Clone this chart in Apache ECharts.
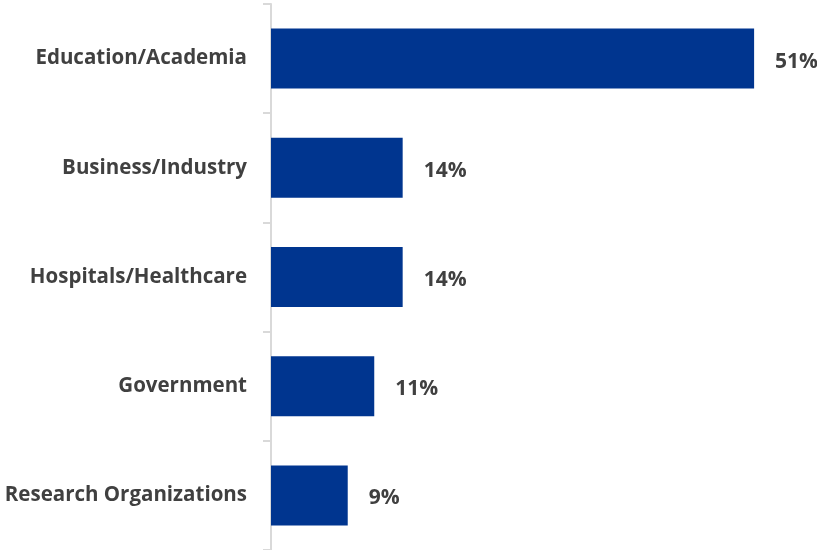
<!DOCTYPE html>
<html>
<head>
<meta charset="utf-8">
<style>
  html, body { margin: 0; padding: 0; background: #fff; }
  #chart { width: 817px; height: 550px; }
</style>
<script src="https://cdn.jsdelivr.net/npm/echarts@6/dist/echarts.min.js"></script>
</head>
<body>
<div id="chart"></div>
<script>
// categories top to bottom
var categories = ['Education/Academia', 'Business/Industry', 'Hospitals/Healthcare', 'Government', 'Research Organizations'];
// bar lengths (percent)
var values = [51, 13.9, 13.9, 10.9, 8.1];
// printed labels
var valueLabels = ['51%', '14%', '14%', '11%', '9%'];

var myChart = echarts.init(document.getElementById('chart'));

var option = {
  animation: false,
  grid: { left: 271, right: 25, top: 4, bottom: -1, containLabel: false },
  xAxis: {
    type: 'value',
    min: 0,
    max: 55,
    show: false
  },
  yAxis: {
    type: 'category',
    inverse: true,
    data: categories,
    axisLine: { show: true, lineStyle: { color: '#d9d9d9', width: 2 } },
    axisTick: { show: true, length: 8, lineStyle: { color: '#d9d9d9', width: 2 } },
    axisLabel: {
      margin: 24,
      fontFamily: 'Open Sans',
      fontWeight: 'bold',
      fontSize: 20.5,
      color: '#404040'
    }
  },
  series: [{
    type: 'bar',
    data: values,
    barWidth: 60,
    itemStyle: { color: '#00358F' },
    label: {
      show: true,
      position: 'right',
      distance: 21,
      offset: [0, 3],
      fontFamily: 'Open Sans',
      fontWeight: 'bold',
      fontSize: 21,
      color: '#404040',
      formatter: function (p) { return valueLabels[p.dataIndex]; }
    }
  }]
};
myChart.setOption(option);
</script>
</body>
</html>
